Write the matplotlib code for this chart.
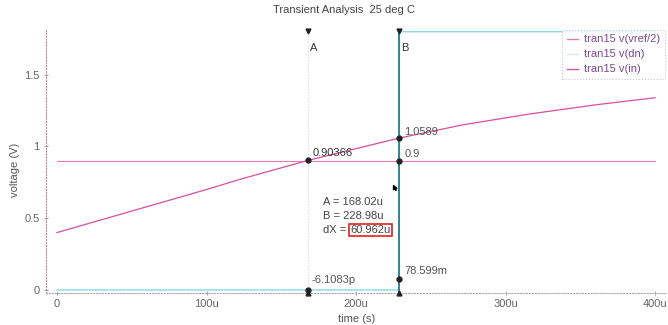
import matplotlib
matplotlib.use("Agg")
import matplotlib.pyplot as plt
import matplotlib.transforms as mtransforms
from matplotlib.lines import Line2D

plt.rcParams['font.family'] = ['Liberation Sans', 'DejaVu Sans']
plt.rcParams['font.size'] = 8

# time axis in microseconds
t_in = [0, 50, 100, 122, 168.02, 200, 228.98, 271, 315, 360, 400]
v_in = [0.40, 0.55, 0.70, 0.77, 0.90366, 0.985, 1.0589, 1.15, 1.225, 1.29, 1.34]

t_vref = [0, 400]
v_vref = [0.9, 0.9]

t_dn = [0, 228.9, 228.98, 229.05, 400]
v_dn = [0, 0, 0.078599, 1.8, 1.8]

cursor_a = 168.02
cursor_b = 228.98
delta_x = 60.962

# values read by the cursors
a_points = [0.90366, -6.1083e-12]
a_labels = ["0.90366", "-6.1083p"]
b_points = [1.0589, 0.9, 0.078599]
b_labels = ["1.0589", "0.9", "78.599m"]

x_ticks = [0, 100, 200, 300, 400]
x_tick_labels = ["0", "100u", "200u", "300u", "400u"]
y_ticks = [0, 0.5, 1, 1.5]
y_tick_labels = ["0", "0.5", "1", "1.5"]

c_in = "#d84ea2"
c_vref = "#e27eab"
c_dn = "#8ed8e2"
c_text = "#444444"
c_legend = "#7a4a90"

fig = plt.figure(figsize=(6.68, 3.25), dpi=100)
ax = fig.add_axes([0.0689, 0.0985, 0.9296, 0.8092])

ax.plot(t_vref, v_vref, color=c_vref, lw=0.8, zorder=2)
ax.plot(t_dn, v_dn, color=c_dn, lw=1.0, zorder=2)
ax.plot(t_in, v_in, color=c_in, lw=0.9, zorder=3)

# cursors
ax.axvline(cursor_a, color="#d8d8d8", lw=0.8, ls=":", zorder=1)
ax.axvline(cursor_b, color="#2f7a8a", lw=1.3, zorder=4)

top = mtransforms.blended_transform_factory(ax.transData, ax.transAxes)
for cx, name, dx in [(cursor_a, "A", 5), (cursor_b, "B", 5)]:
    ax.plot([cx], [0.995], marker="v", color="#222222", ms=3.5, transform=top,
            clip_on=False, zorder=6)
    ax.plot([cx], [0.0], marker="^", color="#222222", ms=3.5, transform=top,
            clip_on=False, zorder=6)
    ax.annotate(name, xy=(cx, 1.0), xycoords=top, xytext=(dx, -18),
                textcoords="offset pixels", ha="center", va="center",
                color="#333333", fontsize=8)

ax.plot([cursor_a] * len(a_points), a_points, "o", color="#222222", ms=3.5, zorder=6)
ax.plot([cursor_b] * len(b_points), b_points, "o", color="#222222", ms=3.5, zorder=6)

a_offsets = [(4, 7), (3, 10)]
a_colors = ["#333333", "#555555"]
for val, lab, off, col in zip(a_points, a_labels, a_offsets, a_colors):
    ax.annotate(lab, xy=(cursor_a, val), xytext=off, textcoords="offset pixels",
                ha="left", va="center", color=col, fontsize=8, zorder=7)

b_offsets = [(5, 6), (5, 7), (5, 8)]
for val, lab, off in zip(b_points, b_labels, b_offsets):
    ax.annotate(lab, xy=(cursor_b, val), xytext=off, textcoords="offset pixels",
                ha="left", va="center", color="#555555", fontsize=8, zorder=7)

# mouse pointer
pointer = [(0, 0), (0, -1.0), (0.28, -0.76), (0.5, -1.15), (0.65, -1.08),
           (0.43, -0.7), (0.78, -0.68), (0, 0)]
ax.plot([224.5], [0.73], marker=pointer, color="black", ms=7, zorder=7)

# delta readout
ax.text(0.446, 0.346, "A = %.2fu" % cursor_a, transform=ax.transAxes,
        ha="left", va="center", color=c_text, fontsize=8)
ax.text(0.446, 0.293, "B = %.2fu" % cursor_b, transform=ax.transAxes,
        ha="left", va="center", color=c_text, fontsize=8)
ax.text(0.446, 0.240, "dX = ", transform=ax.transAxes,
        ha="left", va="center", color=c_text, fontsize=8)
ax.text(0.4895, 0.240, "%.3fu" % delta_x, transform=ax.transAxes,
        ha="left", va="center", color=c_text, fontsize=8,
        bbox=dict(facecolor="white", edgecolor="#e02020", lw=1.2, pad=1.0))

ax.set_xlim(-7.36, 408)
ax.set_ylim(-0.021, 1.812)
ax.set_xticks(x_ticks)
ax.set_xticklabels(x_tick_labels)
ax.set_yticks(y_ticks)
ax.set_yticklabels(y_tick_labels)
ax.tick_params(axis="both", direction="inout", length=3, width=0.6, color="#999999",
               labelcolor="#666666", labelsize=8, pad=3)

for side in ["top", "right"]:
    ax.spines[side].set_visible(False)
ax.spines["left"].set_linestyle(":")
ax.spines["left"].set_color("#b08aa0")
ax.spines["left"].set_linewidth(0.8)
ax.spines["bottom"].set_linestyle(":")
ax.spines["bottom"].set_color("#aaaaaa")
ax.spines["bottom"].set_linewidth(0.8)

ax.set_xlabel("time (s)", color="#555555", fontsize=8)
ax.xaxis.set_label_coords(0.5, -0.08)
ax.set_ylabel("voltage (V)", color="#555555", fontsize=8)
ax.yaxis.set_label_coords(-0.042, 0.47)

fig.text(344 / 668, 1 - 10 / 325, "Transient Analysis  25 deg C", ha="center",
         va="center", color="#444444", fontsize=8)

handles = [Line2D([], [], color=c_vref, lw=1.0),
           Line2D([], [], color="#d8eef2", lw=1.0),
           Line2D([], [], color=c_in, lw=1.0)]
labels = ["tran15 v(vref/2)", "tran15 v(dn)", "tran15 v(in)"]
leg = ax.legend(handles, labels, loc="upper right", bbox_to_anchor=(0.9968, 1.0),
                borderaxespad=0, fontsize=8, handlelength=1.0, handletextpad=0.6,
                labelspacing=0.45, frameon=True, fancybox=False, labelcolor=c_legend,
                borderpad=0.4)
leg.get_frame().set_edgecolor("#bbbbbb")
leg.get_frame().set_linestyle(":")
leg.get_frame().set_linewidth(0.8)
leg.set_zorder(8)

fig.savefig("out.png", dpi=100)
